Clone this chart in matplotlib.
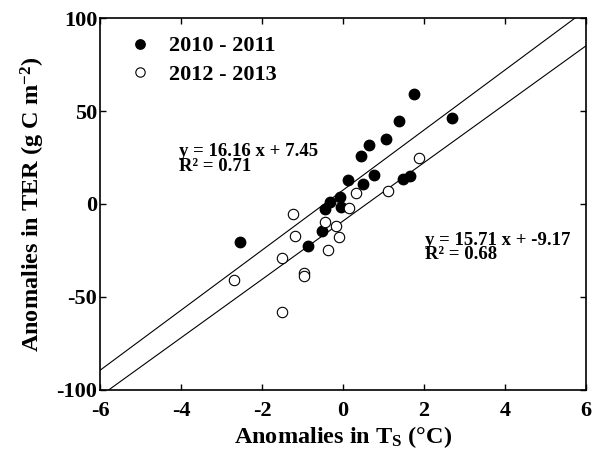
import matplotlib

matplotlib.use("Agg")
import matplotlib.pyplot as plt
import numpy as np

# 2010 - 2011 (filled)
ts_1011 = [-2.54, -0.86, -0.53, -0.44, -0.32, -0.07, -0.05, 0.12, 0.49, 0.77,
           0.44, 0.64, 1.05, 1.37, 1.76, 2.70, 1.47, 1.65]
ter_1011 = [-20.6, -22.4, -14.5, -2.7, 1.2, 3.6, -1.4, 12.9, 10.9, 15.8,
            25.6, 31.9, 34.9, 44.8, 59.1, 46.1, 13.4, 15.2]

# 2012 - 2013 (open)
ts_1213 = [-2.68, -1.51, -1.51, -1.23, -1.19, -0.96, -0.96, -0.44, -0.38, -0.17,
           -0.09, 0.14, 0.33, 1.10, 1.88]
ter_1213 = [-40.9, -28.9, -57.9, -5.5, -17.2, -37.3, -38.7, -9.9, -24.7, -11.6,
            -17.7, -2.3, 5.7, 7.2, 24.7]

fit_1011 = (16.16, 7.45, 0.71)
fit_1213 = (15.71, -9.17, 0.68)

x_ticks = [-6, -4, -2, 0, 2, 4, 6]
y_ticks = [-100, -50, 0, 50, 100]

plt.rcParams["font.family"] = ["Liberation Serif", "DejaVu Serif"]
plt.rcParams["font.weight"] = "bold"
plt.rcParams["axes.unicode_minus"] = False
plt.rcParams["mathtext.fontset"] = "custom"
plt.rcParams["mathtext.rm"] = "Liberation Serif:bold"
plt.rcParams["mathtext.bf"] = "Liberation Serif:bold"
plt.rcParams["mathtext.it"] = "Liberation Serif:bold"

fig = plt.figure(figsize=(5.95, 4.63), dpi=100)
ax = fig.add_axes([0.168, 0.158, 0.817, 0.803])

xs = np.array([-6.0, 6.0])
for slope, intercept, _ in (fit_1011, fit_1213):
    ax.plot(xs, slope * xs + intercept, color="black", linewidth=0.8, zorder=1)

ax.plot(ts_1011, ter_1011, "o", color="black", markersize=7.5,
        label="2010 - 2011", zorder=3)
ax.plot(ts_1213, ter_1213, "o", markerfacecolor="white", markeredgecolor="black",
        markeredgewidth=0.8, markersize=7.5, label="2012 - 2013", zorder=3)

ax.text(-4.05, 24, f"y = {fit_1011[0]:.2f} x + {fit_1011[1]:.2f}\n"
        f"R² = {fit_1011[2]:.2f}",
        fontsize=13.5, fontweight="bold", va="center", linespacing=0.85)
ax.text(2.02, -23.5, f"y = {fit_1213[0]:.2f} x + {fit_1213[1]:.2f}\n"
        f"R² = {fit_1213[2]:.2f}",
        fontsize=13.5, fontweight="bold", va="center", linespacing=0.75)

ax.set_xlim(-6, 6)
ax.set_ylim(-100, 100)
ax.set_xticks(x_ticks)
ax.set_yticks(y_ticks)
ax.tick_params(direction="in", top=True, right=True, length=4, width=1,
               labelsize=16)
ax.tick_params(axis="x", pad=8)
ax.tick_params(axis="y", pad=2)
for lab in ax.get_xticklabels() + ax.get_yticklabels():
    lab.set_fontweight("bold")
for sp in ax.spines.values():
    sp.set_linewidth(1.2)

ax.set_xlabel(r"Anomalies in T$_\mathrm{S}$ (°C)", fontsize=17.5, fontweight="bold",
              labelpad=2)
ax.set_ylabel(r"Anomalies in TER (g C m$^{\mathrm{-2}}$)", fontsize=17.5,
              fontweight="bold", labelpad=7)

leg = ax.legend(loc="upper left", frameon=False, fontsize=16, handletextpad=0.3,
                borderaxespad=0.4, labelspacing=0.35, markerscale=0.9)
for t in leg.get_texts():
    t.set_fontweight("bold")

fig.savefig("out.png", dpi=100)
